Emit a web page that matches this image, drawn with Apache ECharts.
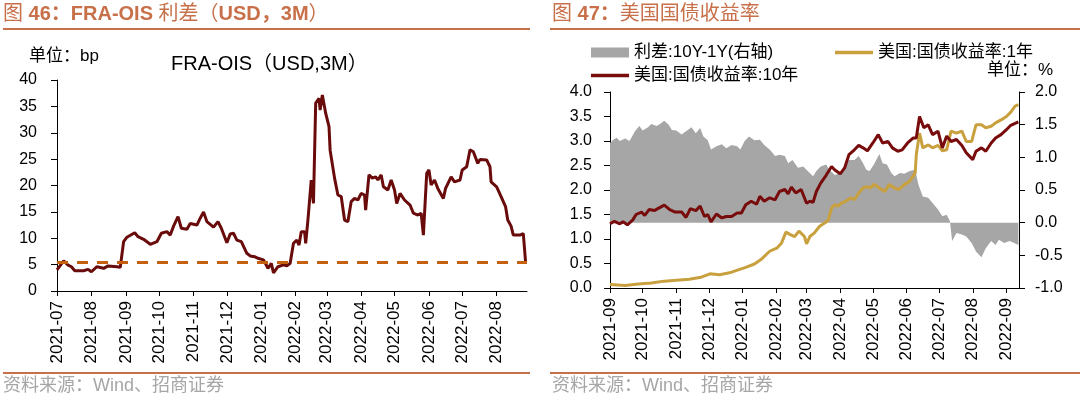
<!DOCTYPE html>
<html>
<head>
<meta charset="utf-8">
<script src="https://cdn.jsdelivr.net/npm/echarts@6/dist/echarts.min.js"></script>
<style>
  html, body { margin: 0; padding: 0; background: #fff; }
  #chart { width: 1080px; height: 397px; }
</style>
</head>
<body>
<div id="chart"></div>
<script>
// 图46: FRA-OIS (USD,3M), bp
const fraOis = [
  ['2021-07-01', 4.0], ['2021-07-07', 5.7], ['2021-07-11', 4.9], ['2021-07-14', 4.6], ['2021-07-17', 3.85],
  ['2021-07-25', 3.85], ['2021-07-29', 4.1], ['2021-08-01', 3.65], ['2021-08-06', 4.6], ['2021-08-12', 4.3],
  ['2021-08-16', 4.75], ['2021-08-24', 4.6], ['2021-08-27', 4.5], ['2021-08-30', 9.35], ['2021-09-02', 10.2],
  ['2021-09-09', 11.05], ['2021-09-12', 10.3], ['2021-09-17', 9.8], ['2021-09-23', 8.85], ['2021-09-29', 9.35],
  ['2021-10-03', 10.95], ['2021-10-08', 11.25], ['2021-10-11', 10.6], ['2021-10-14', 12.3], ['2021-10-18', 14.1],
  ['2021-10-21', 11.9], ['2021-10-26', 11.7], ['2021-10-29', 12.8], ['2021-11-04', 12.5], ['2021-11-07', 13.8],
  ['2021-11-10', 15.0], ['2021-11-13', 13.15], ['2021-11-19', 12.1], ['2021-11-23', 13.15], ['2021-11-26', 11.9],
  ['2021-12-01', 9.15], ['2021-12-04', 10.8], ['2021-12-07', 10.95], ['2021-12-10', 9.65], ['2021-12-14', 9.35],
  ['2021-12-19', 7.15], ['2021-12-22', 6.65], ['2021-12-26', 6.5], ['2021-12-29', 6.2], ['2022-01-03', 5.9],
  ['2022-01-07', 4.3], ['2022-01-10', 5.25], ['2022-01-12', 3.45], ['2022-01-16', 4.6], ['2022-01-21', 4.95],
  ['2022-01-24', 4.75], ['2022-01-27', 5.25], ['2022-01-30', 9.05], ['2022-02-02', 9.65], ['2022-02-04', 8.7],
  ['2022-02-06', 11.25], ['2022-02-09', 11.25], ['2022-02-10', 9.05], ['2022-02-12', 13.45], ['2022-02-15', 21.0],
  ['2022-02-17', 16.6], ['2022-02-19', 35.6], ['2022-02-22', 36.5], ['2022-02-23', 34.3], ['2022-02-25', 37.15],
  ['2022-02-28', 33.7], ['2022-03-03', 31.15], ['2022-03-04', 26.7], ['2022-03-08', 21.4], ['2022-03-11', 18.2],
  ['2022-03-14', 17.9], ['2022-03-17', 13.45], ['2022-03-20', 13.15], ['2022-03-23', 16.95], ['2022-03-26', 17.55],
  ['2022-03-29', 17.25], ['2022-04-01', 18.5], ['2022-04-04', 18.2], ['2022-04-05', 15.35], ['2022-04-08', 22.0],
  ['2022-04-11', 21.4], ['2022-04-14', 21.65], ['2022-04-16', 21.05], ['2022-04-19', 22.0], ['2022-04-21', 19.75],
  ['2022-04-25', 19.15], ['2022-04-28', 21.05], ['2022-05-01', 19.15], ['2022-05-03', 16.6], ['2022-05-06', 18.5],
  ['2022-05-10', 17.25], ['2022-05-15', 16.3], ['2022-05-18', 14.75], ['2022-05-22', 14.4], ['2022-05-25', 14.75],
  ['2022-05-27', 10.6], ['2022-05-30', 22.3], ['2022-06-01', 22.95], ['2022-06-03', 20.1], ['2022-06-06', 21.05],
  ['2022-06-09', 19.45], ['2022-06-14', 17.55], ['2022-06-16', 19.45], ['2022-06-21', 21.65], ['2022-06-24', 20.7],
  ['2022-06-29', 21.05], ['2022-07-01', 22.95], ['2022-07-05', 23.55], ['2022-07-08', 26.75], ['2022-07-11', 26.4],
  ['2022-07-15', 24.2], ['2022-07-17', 24.95], ['2022-07-23', 24.85], ['2022-07-26', 23.55], ['2022-07-27', 20.7],
  ['2022-08-01', 19.75], ['2022-08-05', 17.9], ['2022-08-09', 16.0], ['2022-08-11', 13.45], ['2022-08-14', 12.3],
  ['2022-08-16', 10.6], ['2022-08-22', 10.6], ['2022-08-25', 10.9], ['2022-08-27', 5.6]
]
const fraOisRef = 5.5

// 图47: 美国国债收益率 (%), 利差在右轴
const curveSpread = [
  ['2021-09-01', 1.22], ['2021-09-04', 1.27], ['2021-09-07', 1.30], ['2021-09-10', 1.25], ['2021-09-15', 1.29],
  ['2021-09-19', 1.25], ['2021-09-24', 1.40], ['2021-09-28', 1.48], ['2021-10-01', 1.41], ['2021-10-06', 1.46],
  ['2021-10-09', 1.51], ['2021-10-14', 1.48], ['2021-10-17', 1.51], ['2021-10-21', 1.56], ['2021-10-25', 1.50],
  ['2021-10-28', 1.42], ['2021-11-01', 1.41], ['2021-11-06', 1.35], ['2021-11-10', 1.40], ['2021-11-15', 1.46],
  ['2021-11-19', 1.37], ['2021-11-23', 1.45], ['2021-11-26', 1.32], ['2021-11-30', 1.26], ['2021-12-03', 1.12],
  ['2021-12-08', 1.17], ['2021-12-13', 1.20], ['2021-12-17', 1.14], ['2021-12-22', 1.19], ['2021-12-27', 1.17],
  ['2021-12-30', 1.12], ['2022-01-03', 1.25], ['2022-01-07', 1.32], ['2022-01-12', 1.26], ['2022-01-17', 1.27],
  ['2022-01-21', 1.19], ['2022-01-26', 1.12], ['2022-01-31', 1.02], ['2022-02-04', 1.04], ['2022-02-09', 1.02],
  ['2022-02-12', 0.91], ['2022-02-16', 0.96], ['2022-02-21', 0.84], ['2022-02-26', 0.86], ['2022-03-02', 0.79],
  ['2022-03-07', 0.71], ['2022-03-10', 0.79], ['2022-03-14', 0.86], ['2022-03-19', 0.89], ['2022-03-22', 0.81],
  ['2022-03-27', 0.73], ['2022-04-01', 0.76], ['2022-04-05', 0.86], ['2022-04-09', 0.96], ['2022-04-14', 0.96],
  ['2022-04-18', 1.02], ['2022-04-22', 0.91], ['2022-04-25', 0.81], ['2022-04-28', 0.79], ['2022-05-02', 0.89],
  ['2022-05-07', 1.05], ['2022-05-10', 0.91], ['2022-05-14', 0.89], ['2022-05-18', 0.76], ['2022-05-21', 0.71],
  ['2022-05-26', 0.76], ['2022-05-30', 0.75], ['2022-06-04', 0.79], ['2022-06-09', 0.81], ['2022-06-12', 0.58],
  ['2022-06-16', 0.40], ['2022-06-21', 0.38], ['2022-06-25', 0.30], ['2022-06-30', 0.20], ['2022-07-04', 0.10],
  ['2022-07-08', 0.12], ['2022-07-11', 0.02], ['2022-07-13', -0.28], ['2022-07-17', -0.16], ['2022-07-22', -0.18],
  ['2022-07-26', -0.21], ['2022-07-31', -0.31], ['2022-08-04', -0.44], ['2022-08-09', -0.53], ['2022-08-13', -0.39],
  ['2022-08-18', -0.28], ['2022-08-22', -0.34], ['2022-08-25', -0.26], ['2022-08-30', -0.31], ['2022-09-04', -0.28],
  ['2022-09-08', -0.31], ['2022-09-12', -0.34]
]

const ust1y = [
  ['2021-09-01', 0.07], ['2021-09-15', 0.05], ['2021-09-27', 0.08], ['2021-10-09', 0.10], ['2021-10-21', 0.14],
  ['2021-11-01', 0.16], ['2021-11-13', 0.18], ['2021-11-24', 0.22], ['2021-12-02', 0.29], ['2021-12-11', 0.27],
  ['2021-12-20', 0.31], ['2021-12-28', 0.37], ['2022-01-04', 0.42], ['2022-01-12', 0.49], ['2022-01-18', 0.58],
  ['2022-01-26', 0.75], ['2022-02-02', 0.82], ['2022-02-06', 0.92], ['2022-02-10', 1.14], ['2022-02-14', 1.09],
  ['2022-02-18', 1.05], ['2022-02-22', 1.16], ['2022-02-27', 1.05], ['2022-03-01', 0.90], ['2022-03-04', 1.05],
  ['2022-03-08', 1.12], ['2022-03-13', 1.26], ['2022-03-18', 1.33], ['2022-03-21', 1.39], ['2022-03-24', 1.63],
  ['2022-03-27', 1.70], ['2022-03-30', 1.67], ['2022-04-02', 1.73], ['2022-04-06', 1.77], ['2022-04-11', 1.84],
  ['2022-04-14', 1.80], ['2022-04-18', 1.94], ['2022-04-22', 2.04], ['2022-04-26', 2.07], ['2022-04-29', 2.04],
  ['2022-05-02', 2.12], ['2022-05-07', 2.04], ['2022-05-12', 1.97], ['2022-05-16', 2.11], ['2022-05-21', 2.04],
  ['2022-05-25', 2.01], ['2022-05-30', 2.11], ['2022-06-04', 2.18], ['2022-06-09', 2.35], ['2022-06-10', 2.72],
  ['2022-06-13', 3.16], ['2022-06-16', 2.86], ['2022-06-21', 2.92], ['2022-06-25', 2.86], ['2022-06-30', 2.91],
  ['2022-07-04', 2.80], ['2022-07-08', 2.82], ['2022-07-12', 3.20], ['2022-07-17', 3.16], ['2022-07-22', 3.20],
  ['2022-07-26', 2.99], ['2022-07-31', 2.99], ['2022-08-04', 3.33], ['2022-08-09', 3.33], ['2022-08-13', 3.27],
  ['2022-08-18', 3.30], ['2022-08-22', 3.37], ['2022-08-27', 3.43], ['2022-09-01', 3.50], ['2022-09-05', 3.59],
  ['2022-09-09', 3.71], ['2022-09-12', 3.74]
]

const ust10y = [
  ['2021-09-01', 1.31], ['2021-09-05', 1.36], ['2021-09-10', 1.31], ['2021-09-13', 1.35], ['2021-09-17', 1.29],
  ['2021-09-22', 1.39], ['2021-09-25', 1.50], ['2021-09-30', 1.55], ['2021-10-03', 1.48], ['2021-10-07', 1.60],
  ['2021-10-12', 1.58], ['2021-10-15', 1.62], ['2021-10-21', 1.69], ['2021-10-26', 1.60], ['2021-10-31', 1.55],
  ['2021-11-06', 1.55], ['2021-11-10', 1.44], ['2021-11-14', 1.62], ['2021-11-19', 1.58], ['2021-11-23', 1.67],
  ['2021-11-27', 1.46], ['2021-11-30', 1.50], ['2021-12-03', 1.35], ['2021-12-08', 1.51], ['2021-12-13', 1.43],
  ['2021-12-17', 1.46], ['2021-12-22', 1.46], ['2021-12-27', 1.53], ['2021-12-31', 1.53], ['2022-01-04', 1.70],
  ['2022-01-09', 1.77], ['2022-01-14', 1.71], ['2022-01-17', 1.87], ['2022-01-21', 1.77], ['2022-01-26', 1.84],
  ['2022-01-31', 1.80], ['2022-02-04', 1.97], ['2022-02-09', 2.01], ['2022-02-12', 1.92], ['2022-02-15', 2.06],
  ['2022-02-19', 1.94], ['2022-02-24', 2.01], ['2022-03-01', 1.73], ['2022-03-04', 1.77], ['2022-03-07', 1.75],
  ['2022-03-10', 1.97], ['2022-03-14', 2.14], ['2022-03-19', 2.30], ['2022-03-24', 2.48], ['2022-03-27', 2.41],
  ['2022-04-01', 2.33], ['2022-04-05', 2.45], ['2022-04-09', 2.72], ['2022-04-14', 2.82], ['2022-04-18', 2.91],
  ['2022-04-22', 2.86], ['2022-04-26', 2.80], ['2022-05-01', 2.96], ['2022-05-06', 3.13], ['2022-05-10', 2.96],
  ['2022-05-15', 2.99], ['2022-05-19', 2.86], ['2022-05-24', 2.79], ['2022-05-28', 2.82], ['2022-06-02', 2.96],
  ['2022-06-07', 3.06], ['2022-06-10', 3.06], ['2022-06-13', 3.50], ['2022-06-17', 3.27], ['2022-06-21', 3.33],
  ['2022-06-25', 3.13], ['2022-06-30', 3.20], ['2022-07-04', 2.86], ['2022-07-08', 3.10], ['2022-07-12', 2.99],
  ['2022-07-17', 3.03], ['2022-07-22', 2.91], ['2022-07-26', 2.76], ['2022-08-01', 2.62], ['2022-08-04', 2.79],
  ['2022-08-09', 2.86], ['2022-08-13', 2.79], ['2022-08-18', 2.96], ['2022-08-22', 3.06], ['2022-08-27', 3.13],
  ['2022-09-01', 3.23], ['2022-09-05', 3.32], ['2022-09-12', 3.39]
]

const DAY = 24 * 3600 * 1000
const FONT = 'Arial, "Liberation Sans", "Noto Sans CJK SC", sans-serif'
const ORANGE = '#c8704a'
const GRAY = '#a6a6a6'
const GOLD = '#c9a03e'
const MAROON = '#780c0c'

function monthAxis(grid, min, max) {
    return {
        type: 'time',
        gridIndex: grid,
        min: min,
        max: max,
        splitNumber: 14,
        minInterval: 28 * DAY,
        maxInterval: 31 * DAY,
        axisLine: { lineStyle: { color: '#000', width: 1 } },
        axisTick: { show: true, length: 5, lineStyle: { color: '#000' } },
        axisLabel: {
            rotate: 90, color: '#000', fontSize: 17, fontFamily: FONT, margin: 10,
            formatter: '{yyyy}-{MM}', hideOverlap: false
        },
        splitLine: { show: false }
    }
}

function valueAxis(grid, min, max, step, pos, digits, margin) {
    return {
        type: 'value',
        gridIndex: grid,
        position: pos,
        min: min,
        max: max,
        interval: step,
        axisLine: { show: true, lineStyle: { color: '#000', width: 1 } },
        axisTick: { show: true, length: 6, lineStyle: { color: '#000' } },
        axisLabel: {
            color: '#000', fontSize: 16, fontFamily: FONT, margin: margin,
            formatter: v => v.toFixed(digits)
        },
        splitLine: { show: false }
    }
}

// one legend per entry so each icon can have its own height
function legendItem(name, left, top, h) {
    return {
        left: left, top: top, itemWidth: 38, itemHeight: h, icon: 'rect',
        textStyle: { fontSize: 17, color: '#000', fontFamily: FONT },
        data: [name]
    }
}

const chart = echarts.init(document.getElementById('chart'))

chart.setOption({
    animation: false,
    backgroundColor: '#fff',
    textStyle: { fontFamily: FONT },
    title: {
        text: 'FRA-OIS（USD,3M）',
        left: 166,
        top: 49,
        textStyle: { fontSize: 20, fontWeight: 'normal', color: '#000', fontFamily: FONT }
    },
    legend: [
        legendItem('利差:10Y-1Y(右轴)', 586, 39, 10),
        legendItem('美国:国债收益率:1年', 830, 39, 3.5),
        legendItem('美国:国债收益率:10年', 586, 62, 3.5)
    ],
    grid: [
        { left: 57, top: 80, width: 470, height: 211 },
        { left: 610, top: 92, width: 409, height: 196 }
    ],
    xAxis: [
        monthAxis(0, new Date(2021, 6, 1).getTime(), new Date(2022, 7, 28, 8).getTime()),
        monthAxis(1, new Date(2021, 8, 1).getTime(), new Date(2022, 8, 12, 14).getTime())
    ],
    yAxis: [
        valueAxis(0, 0, 40, 5, 'left', 0, 20),
        valueAxis(1, 0, 4, 0.5, 'left', 1, 18),
        valueAxis(1, -1, 2, 0.5, 'right', 1, 16)
    ],
    series: [
        {
            name: 'FRA-OIS',
            type: 'line',
            xAxisIndex: 0, yAxisIndex: 0,
            data: fraOis,
            symbol: 'none',
            lineStyle: { color: '#6a0b0b', width: 3 },
            itemStyle: { color: '#6a0b0b' },
            markLine: {
                silent: true,
                symbol: ['none', 'none'],
                label: { show: false },
                lineStyle: { color: '#c5600f', type: [11, 9], width: 3 },
                data: [{ yAxis: fraOisRef }]
            }
        },
        {
            name: '利差:10Y-1Y(右轴)',
            type: 'line',
            xAxisIndex: 1, yAxisIndex: 2,
            data: curveSpread,
            symbol: 'none',
            lineStyle: { width: 0 },
            areaStyle: { color: GRAY, opacity: 1 },
            itemStyle: { color: GRAY }
        },
        {
            name: '美国:国债收益率:1年',
            type: 'line',
            xAxisIndex: 1, yAxisIndex: 1,
            data: ust1y,
            symbol: 'none',
            lineStyle: { color: GOLD, width: 3 },
            itemStyle: { color: GOLD }
        },
        {
            name: '美国:国债收益率:10年',
            type: 'line',
            xAxisIndex: 1, yAxisIndex: 1,
            data: ust10y,
            symbol: 'none',
            lineStyle: { color: MAROON, width: 3 },
            itemStyle: { color: MAROON }
        }
    ],
    graphic: [
        // chart titles
        {
            type: 'text', left: 3, top: 4,
            style: {
                text: '{c|图 }{b|46：FRA-OIS }{c|利差（}{b|USD，3M}{c|）}',
                rich: {
                    c: { fontSize: 20, fill: ORANGE, fontFamily: FONT },
                    b: { fontSize: 20, fill: ORANGE, fontWeight: 'bold', fontFamily: FONT }
                }
            }
        },
        {
            type: 'text', left: 552, top: 4,
            style: {
                text: '{c|图 }{b|47：}{c|美国国债收益率}',
                rich: {
                    c: { fontSize: 20, fill: ORANGE, fontFamily: FONT },
                    b: { fontSize: 20, fill: ORANGE, fontWeight: 'bold', fontFamily: FONT }
                }
            }
        },
        { type: 'line', shape: { x1: 3, y1: 29, x2: 530, y2: 29 }, style: { stroke: ORANGE, lineWidth: 2 } },
        { type: 'line', shape: { x1: 550, y1: 29, x2: 1080, y2: 29 }, style: { stroke: ORANGE, lineWidth: 2 } },
        // units
        {
            type: 'text', left: 29, top: 48,
            style: { text: '单位：bp', fontSize: 17, fill: '#000', fontFamily: FONT }
        },
        {
            type: 'text', right: 27, top: 62,
            style: { text: '单位：%', fontSize: 17, fill: '#000', fontFamily: FONT }
        },
        // sources
        { type: 'line', shape: { x1: 3, y1: 373, x2: 530, y2: 373 }, style: { stroke: ORANGE, lineWidth: 2 } },
        { type: 'line', shape: { x1: 550, y1: 373, x2: 1080, y2: 373 }, style: { stroke: ORANGE, lineWidth: 2 } },
        {
            type: 'text', left: 3, top: 377,
            style: { text: '资料来源：Wind、招商证券', fontSize: 18, fill: GRAY, fontFamily: FONT }
        },
        {
            type: 'text', left: 552, top: 377,
            style: { text: '资料来源：Wind、招商证券', fontSize: 18, fill: GRAY, fontFamily: FONT }
        }
    ]
})
</script>
</body>
</html>
